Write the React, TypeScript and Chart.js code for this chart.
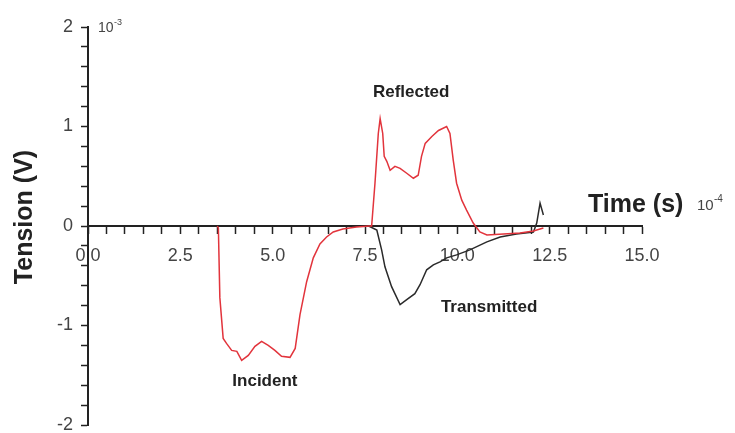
import React, { useEffect, useRef } from 'react';
import { Chart, registerables } from 'chart.js';

Chart.register(...registerables);

const FONT = "'Liberation Sans', Arial, sans-serif";

// Incident + reflected wave (red), time in 1e-4 s, tension in 1e-3 V
const redTime = [3.50, 3.53, 3.57, 3.66, 3.75, 3.89, 4.03, 4.16, 4.34, 4.52, 4.70, 4.88, 5.06, 5.24, 5.47, 5.61, 5.74, 5.92, 6.10, 6.28, 6.46, 6.64, 6.90, 7.27, 7.62, 7.68, 7.77, 7.86, 7.91, 7.98, 8.02, 8.09, 8.18, 8.31, 8.45, 8.63, 8.81, 8.94, 9.03, 9.13, 9.31, 9.49, 9.71, 9.80, 9.89, 9.98, 10.12, 10.25, 10.43, 10.61, 10.80, 11.25, 11.70, 12.06, 12.33];
const redTension = [0, -0.02, -0.72, -1.13, -1.18, -1.25, -1.26, -1.35, -1.30, -1.21, -1.16, -1.20, -1.25, -1.31, -1.32, -1.23, -0.89, -0.56, -0.32, -0.18, -0.11, -0.06, -0.03, -0.01, 0, 0.0, 0.43, 0.93, 1.08, 0.93, 0.70, 0.65, 0.56, 0.60, 0.58, 0.53, 0.48, 0.51, 0.70, 0.83, 0.90, 0.96, 1.00, 0.93, 0.66, 0.43, 0.26, 0.16, 0.03, -0.06, -0.09, -0.08, -0.07, -0.05, -0.02];

// Transmitted wave (black)
const blackTime = [7.60, 7.82, 7.95, 8.04, 8.22, 8.45, 8.63, 8.85, 8.99, 9.17, 9.35, 9.53, 9.71, 9.98, 10.34, 10.80, 11.16, 11.60, 12.06, 12.15, 12.24, 12.33];
const blackTension = [0, -0.04, -0.24, -0.41, -0.61, -0.79, -0.74, -0.68, -0.59, -0.44, -0.39, -0.36, -0.32, -0.29, -0.24, -0.16, -0.11, -0.08, -0.06, 0.03, 0.23, 0.11];

const xMajorValues = [0, 2.5, 5, 7.5, 10, 12.5, 15];
const xTickLabels = ['0.0', '2.5', '5.0', '7.5', '10.0', '12.5', '15.0'];
const yMajorValues = [-2, -1, 0, 1, 2];
const yTickLabels = ['-2', '-1', '0', '1', '2'];

const annotationTexts = ['Reflected', 'Incident', 'Transmitted'];
const annotationX = [8.75, 4.79, 10.86];
const annotationY = [1.34, -1.56, -0.82];

const labelFor = (v: number, values: number[], labels: string[]) => {
  const i = values.findIndex((m) => Math.abs(m - v) < 1e-6);
  return i >= 0 ? labels[i] : '';
};

const textPlugin = {
  id: 'textPlugin',
  afterDraw(chart: any) {
    const ctx = chart.ctx;
    const xs = chart.scales.x;
    const ys = chart.scales.y;
    const area = chart.chartArea;
    ctx.save();
    ctx.fillStyle = '#222';
    ctx.textBaseline = 'middle';

    // annotations
    ctx.font = `bold 17px ${FONT}`;
    ctx.textAlign = 'center';
    annotationTexts.forEach((t, i) => {
      ctx.fillText(t, xs.getPixelForValue(annotationX[i]), ys.getPixelForValue(annotationY[i]));
    });

    // x title
    const y0 = ys.getPixelForValue(0);
    ctx.textAlign = 'left';
    ctx.font = `bold 25px ${FONT}`;
    ctx.fillText('Time (s)', area.right - 54, y0 - 21);
    ctx.fillStyle = '#444';
    ctx.font = `15px ${FONT}`;
    ctx.fillText('10', area.right + 55, y0 - 20);
    ctx.font = `10px ${FONT}`;
    ctx.fillText('-4', area.right + 72, y0 - 27);

    // y exponent
    ctx.font = `14px ${FONT}`;
    ctx.fillText('10', area.left + 10, area.top + 1);
    ctx.font = `9px ${FONT}`;
    ctx.fillText('-3', area.left + 26, area.top - 4);

    // y title
    ctx.fillStyle = '#222';
    ctx.font = `bold 25px ${FONT}`;
    ctx.textAlign = 'center';
    ctx.translate(25, area.top + 190);
    ctx.rotate(-Math.PI / 2);
    ctx.fillText('Tension (V)', 0, 0);
    ctx.restore();
  },
};

export default function App() {
  const canvasRef = useRef<HTMLCanvasElement | null>(null);

  useEffect(() => {
    document.body.style.margin = '0';
    const canvas = canvasRef.current;
    if (!canvas) return;
    const chart = new Chart(canvas, {
      type: 'line',
      data: {
        datasets: [
          {
            label: 'Incident / Reflected',
            data: redTime.map((x, i) => ({ x, y: redTension[i] })),
            borderColor: '#e2343c',
            borderWidth: 1.5,
            pointRadius: 0,
            tension: 0,
            fill: false,
          },
          {
            label: 'Transmitted',
            data: blackTime.map((x, i) => ({ x, y: blackTension[i] })),
            borderColor: '#2a2a2a',
            borderWidth: 1.5,
            pointRadius: 0,
            tension: 0,
            fill: false,
          },
        ],
      },
      options: {
        animation: false,
        responsive: false,
        devicePixelRatio: 1,
        layout: { padding: { left: 0, top: 27, right: 93, bottom: 8 } },
        plugins: { legend: { display: false }, tooltip: { enabled: false } },
        scales: {
          x: {
            type: 'linear',
            position: { y: 0 } as any,
            min: 0,
            max: 15,
            grid: { drawOnChartArea: false, drawTicks: true, tickLength: 7, tickColor: '#222', tickWidth: 1.5 },
            border: { display: true, color: '#222', width: 2 },
            ticks: {
              stepSize: 0.5,
              autoSkip: false,
              maxRotation: 0,
              padding: 12,
              color: '#444',
              font: { family: FONT, size: 18 },
              callback: (v: any) => labelFor(Number(v), xMajorValues, xTickLabels),
            },
          },
          y: {
            type: 'linear',
            position: 'left',
            min: -2,
            max: 2,
            grid: { drawOnChartArea: false, drawTicks: true, tickLength: 7, tickColor: '#222', tickWidth: 1.5 },
            border: { display: true, color: '#222', width: 2 },
            ticks: {
              stepSize: 0.2,
              autoSkip: false,
              padding: 8,
              color: '#444',
              font: { family: FONT, size: 18 },
              callback: (v: any) => labelFor(Number(v), yMajorValues, yTickLabels),
            },
            afterFit: (s: any) => {
              s.width = 88;
              s.paddingTop = 0;
              s.paddingBottom = 0;
            },
          },
        },
      },
      plugins: [textPlugin],
    });
    return () => chart.destroy();
  }, []);

  return (
    <div style={{ position: 'absolute', left: 0, top: 0, width: 735, height: 433 }}>
      <canvas ref={canvasRef} width={735} height={433} />
    </div>
  );
}
